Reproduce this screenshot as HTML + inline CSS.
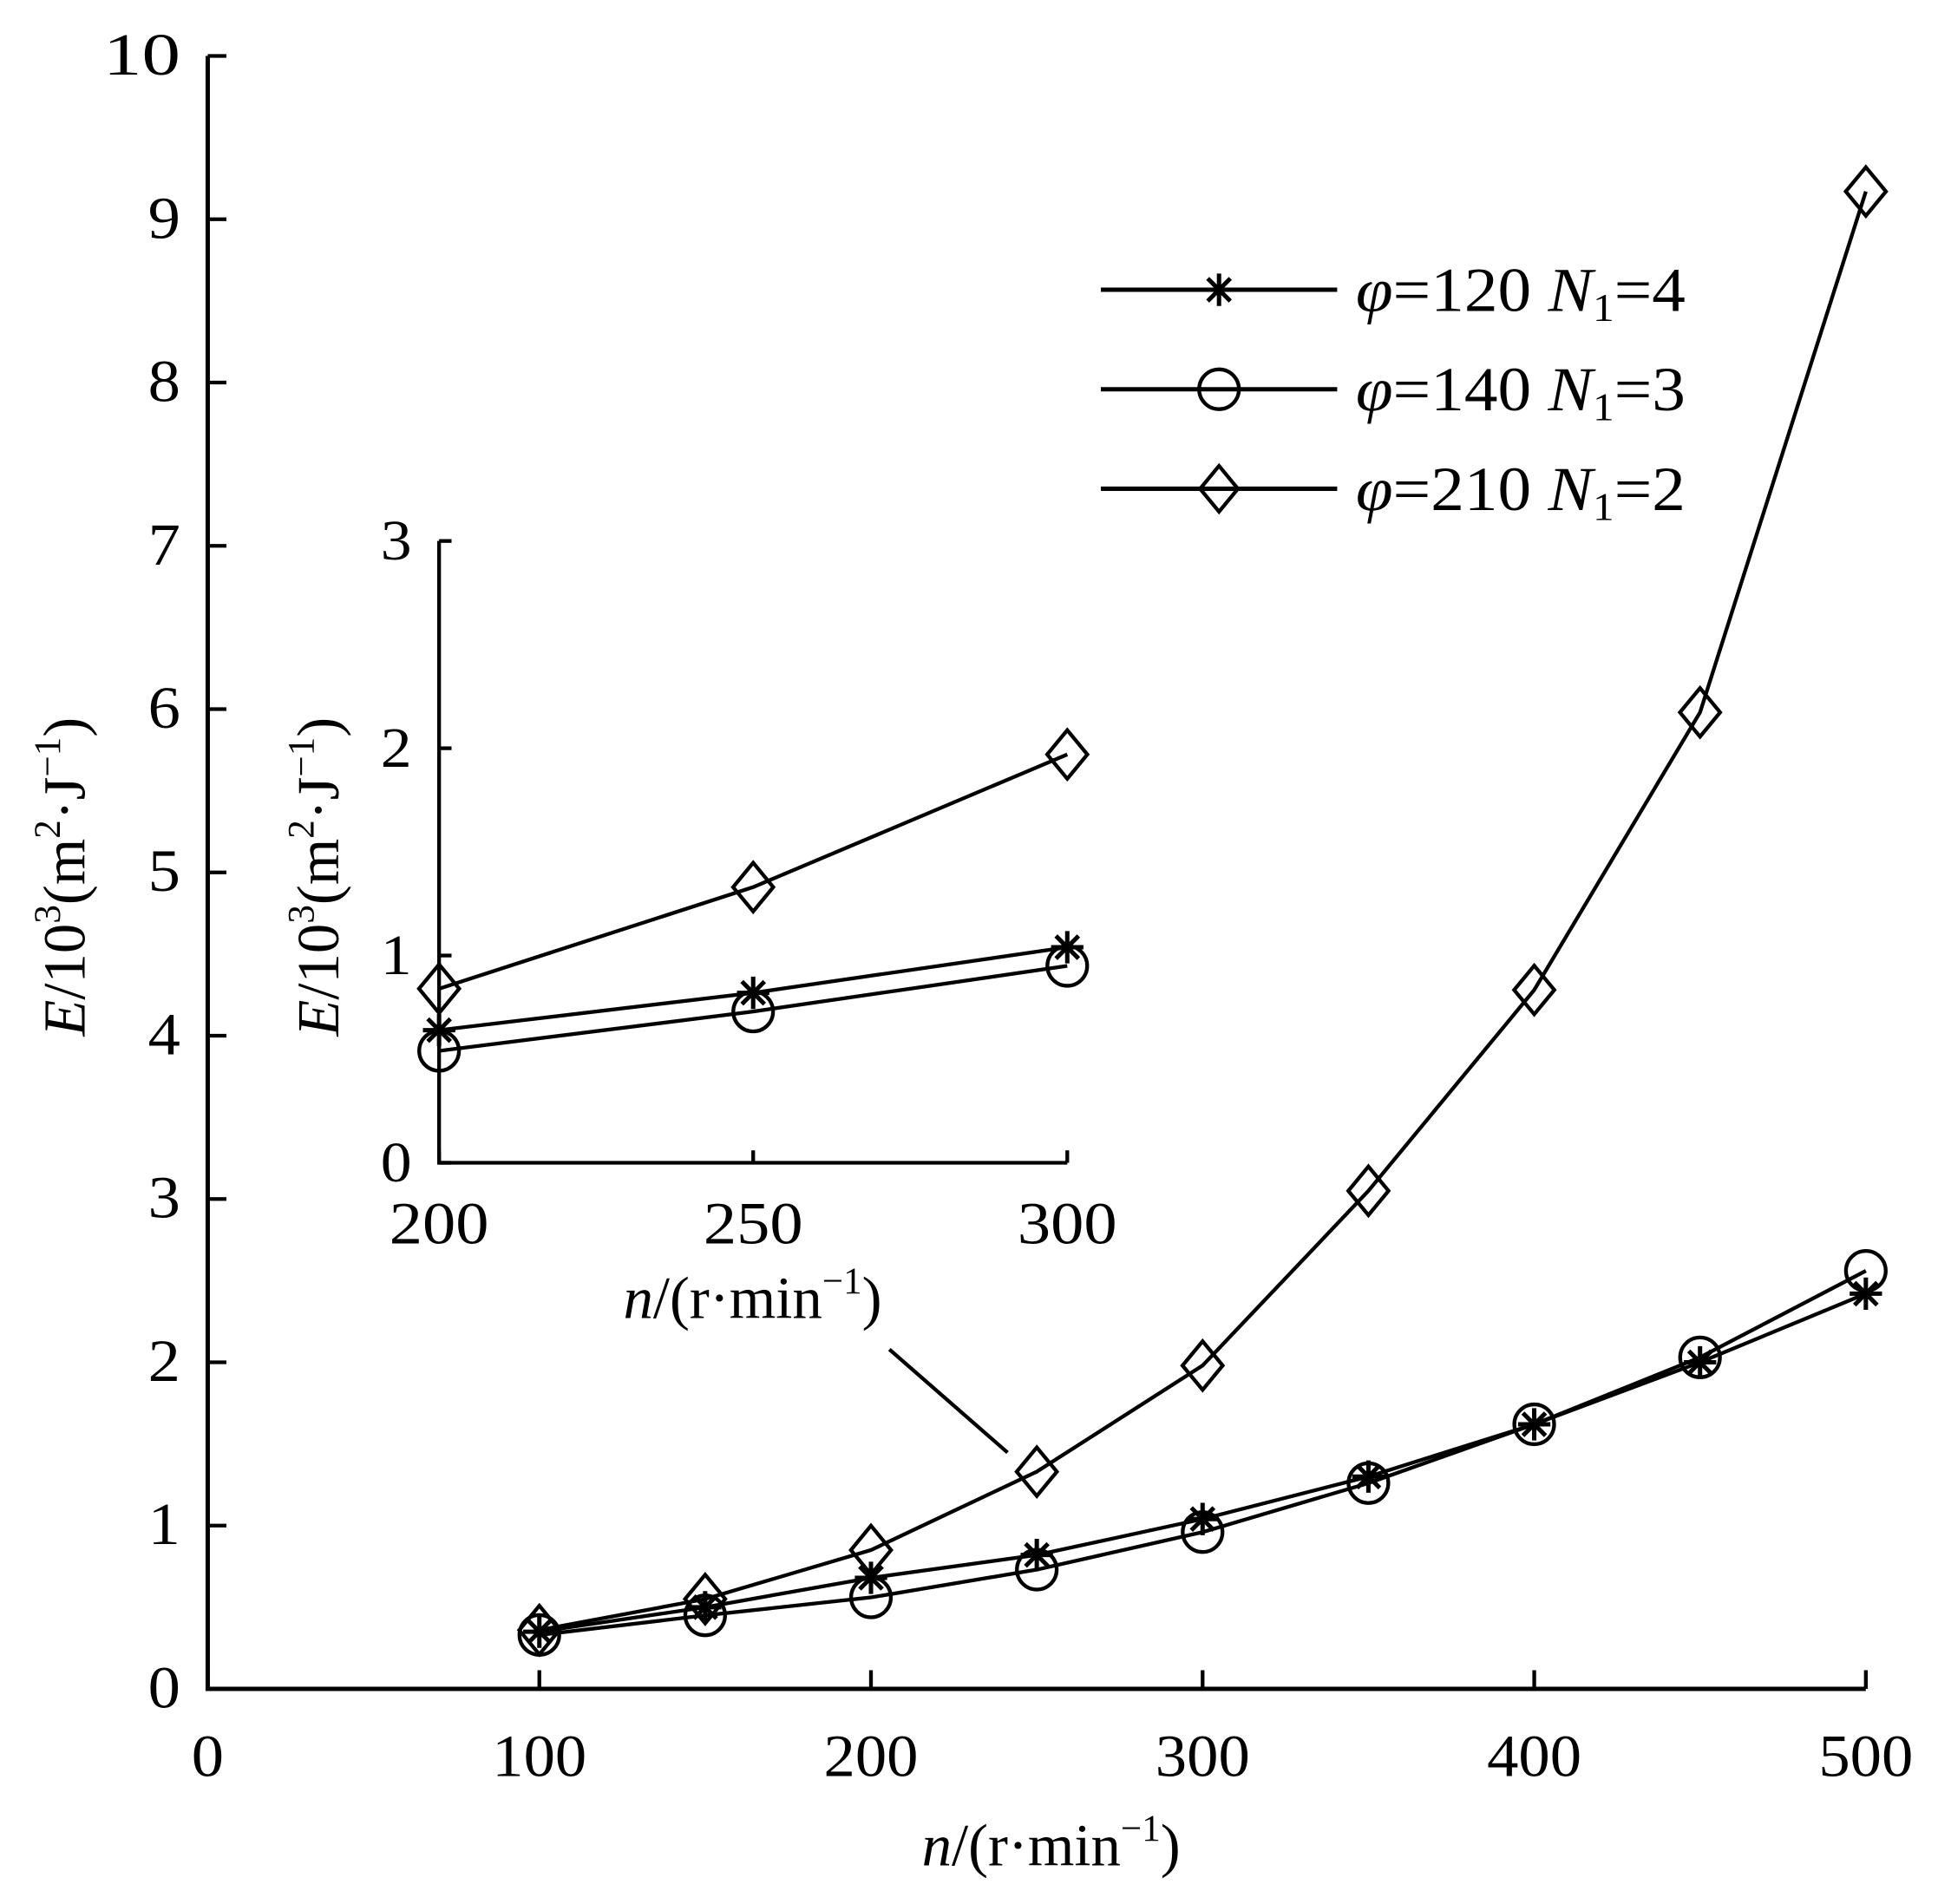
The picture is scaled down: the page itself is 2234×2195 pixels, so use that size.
<!DOCTYPE html>
<html><head><meta charset="utf-8"><style>html,body{margin:0;padding:0;background:#fff}svg{display:block}text{font-family:"Liberation Serif","Times New Roman",serif;fill:#000}</style></head>
<body>
<svg id="chart" width="2234" height="2195" viewBox="0 0 1558 1531" preserveAspectRatio="none" xmlns="http://www.w3.org/2000/svg" font-family="Liberation Serif, serif">
<g id="main"></g>
<g id="inset"></g>
<g id="legend"></g>
</svg>
<script>
const xCats = [100,150,200,250,300,350,400,450,500];
const s120 = [0.35,0.50,0.68,0.82,1.04,1.30,1.62,2.00,2.42];
const s140 = [0.33,0.45,0.56,0.73,0.96,1.26,1.62,2.03,2.56];
const s210 = [0.36,0.55,0.85,1.33,1.98,3.05,4.28,5.98,9.17];
const xTicks = [0,100,200,300,400,500];
const yTicks = [0,1,2,3,4,5,6,7,8,9,10];
const insetCats = [200,250,300];
const in120 = [0.64,0.82,1.04];
const in140 = [0.54,0.73,0.95];
const in210 = [0.84,1.33,1.97];
const insetXTicks = [200,250,300];
const insetYTicks = [0,1,2,3];

const NS='http://www.w3.org/2000/svg';
function mk(parent,tag,attrs,text){const e=document.createElementNS(NS,tag);for(const k in attrs)e.setAttribute(k,attrs[k]);if(text!==undefined)e.textContent=text;parent.appendChild(e);return e;}
const mx=v=>167+(v-0)*(1500-167)/500;
const my=v=>1358-v*(1358-45)/10;
const ix=v=>353+(v-200)*(858-353)/100;
const iy=v=>935-v*(935-435)/3;

function marker(g,type,x,y,s){
  let e;
  if(type==='star'){
    e=mk(g,'path',{d:`M${x-s} ${y}L${x+s} ${y}M${x} ${y-s}L${x} ${y+s}M${x-s*0.7} ${y-s*0.7}L${x+s*0.7} ${y+s*0.7}M${x-s*0.7} ${y+s*0.7}L${x+s*0.7} ${y-s*0.7}`,stroke:'#000','stroke-width':3.5,fill:'none'});
  } else if(type==='circle'){
    e=mk(g,'circle',{cx:x,cy:y,r:s,stroke:'#000','stroke-width':3,fill:'none'});
  } else {
    e=mk(g,'path',{d:`M${x} ${y-s*1.15}L${x+s*0.95} ${y}L${x} ${y+s*1.15}L${x-s*0.95} ${y}Z`,stroke:'#000','stroke-width':3,fill:'none'});
  }
  return e;
}
function series(g,name,cats,vals,fx,fy,type,s){
  const pts=cats.map((c,i)=>fx(c)+','+fy(vals[i])).join(' ');
  const l=mk(g,'polyline',{points:pts,fill:'none',stroke:'#000','stroke-width':3});
  
  
  cats.forEach((c,i)=>{const m=marker(g,type,fx(c),fy(vals[i]),s);
    
    });
}
function txt(g,x,y,str,size,anchor,w,name){
  const t=mk(g,'text',{x:x,y:y,'font-size':size,'text-anchor':anchor||'middle','font-family':'Liberation Serif, serif'},str);
  if(w){t.setAttribute('textLength',w);t.setAttribute('lengthAdjust','spacingAndGlyphs');}
  
  
  return t;
}
const M=document.getElementById('main');
const ax=mk(M,'path',{d:`M${mx(0)} ${my(10)}L${mx(0)} ${my(0)}L${mx(500)} ${my(0)}`,stroke:'#000','stroke-width':3.5,fill:'none'});


yTicks.forEach(v=>{mk(M,'line',{x1:mx(0),x2:mx(0)+15,y1:my(v),y2:my(v),stroke:'#000','stroke-width':3});
  txt(M,mx(0)-22,my(v)+15,String(v),48,'end',v===10?62:26,'y-tick-label');});
xTicks.forEach(v=>{mk(M,'line',{x1:mx(v),x2:mx(v),y1:my(0),y2:my(0)-15,stroke:'#000','stroke-width':3});
  txt(M,mx(v),my(0)+70,String(v),48,'middle',v===0?26:76,'x-tick-label');});
const xl=txt(M,845,1500,'',48,'middle',null,'x-axis-title');
xl.innerHTML='<tspan font-style="italic">n</tspan>/(r·min<tspan dy="-20" font-size="30">−1</tspan><tspan dy="20">)</tspan>';
const yl=txt(M,0,0,'',48,'middle',null,'y-axis-title');
yl.setAttribute('transform','translate(68,705) rotate(-90)');
yl.innerHTML='<tspan font-style="italic">E</tspan>/10<tspan dy="-20" font-size="30">3</tspan><tspan dy="20">(m</tspan><tspan dy="-20" font-size="30">2</tspan><tspan dy="20">·J</tspan><tspan dy="-20" font-size="30">−1</tspan><tspan dy="20">)</tspan>';
series(M,'phi120',xCats,s120,mx,my,'star',13);
series(M,'phi140',xCats,s140,mx,my,'circle',16);
series(M,'phi210',xCats,s210,mx,my,'diamond',17);
const ptr=mk(M,'line',{x1:715,y1:1085,x2:810,y2:1168,stroke:'#000','stroke-width':3});


const I=document.getElementById('inset');
const iax=mk(I,'path',{d:`M${ix(200)} ${iy(3)}L${ix(200)} ${iy(0)}L${ix(300)} ${iy(0)}`,stroke:'#000','stroke-width':3,fill:'none'});


insetYTicks.forEach(v=>{mk(I,'line',{x1:ix(200),x2:ix(200)+10,y1:iy(v),y2:iy(v),stroke:'#000','stroke-width':3});
  txt(I,ix(200)-22,iy(v)+15,String(v),46,'end',25,'inset-y-tick-label');});
insetXTicks.forEach(v=>{mk(I,'line',{x1:ix(v),x2:ix(v),y1:iy(0),y2:iy(0)-10,stroke:'#000','stroke-width':3});
  txt(I,ix(v),iy(0)+65,String(v),48,'middle',80,'inset-x-tick-label');});
const ixl=txt(I,605,1060,'',48,'middle',null,'inset-x-axis-title');
ixl.innerHTML='<tspan font-style="italic">n</tspan>/(r·min<tspan dy="-20" font-size="30">−1</tspan><tspan dy="20">)</tspan>';
const iyl=txt(I,0,0,'',48,'middle',null,'inset-y-axis-title');
iyl.setAttribute('transform','translate(272,705) rotate(-90)');
iyl.innerHTML='<tspan font-style="italic">E</tspan>/10<tspan dy="-20" font-size="30">3</tspan><tspan dy="20">(m</tspan><tspan dy="-20" font-size="30">2</tspan><tspan dy="20">·J</tspan><tspan dy="-20" font-size="30">−1</tspan><tspan dy="20">)</tspan>';
series(I,'inset-phi120',insetCats,in120,ix,iy,'star',13);
series(I,'inset-phi140',insetCats,in140,ix,iy,'circle',16);
series(I,'inset-phi210',insetCats,in210,ix,iy,'diamond',17);
const L=document.getElementById('legend');
const leg=[['star','120','4'],['circle','140','3'],['diamond','210','2']];
leg.forEach((d,i)=>{const y=233+i*80;
  const g=mk(L,'g',{});
  
  
  mk(g,'line',{x1:885,x2:1075,y1:y,y2:y,stroke:'#000','stroke-width':3.5});
  marker(g,d[0],980,y,d[0]==='star'?13:16);
  const t=mk(g,'text',{x:1090,y:y+17,'font-size':50,'font-family':'Liberation Serif, serif',textLength:265,lengthAdjust:'spacingAndGlyphs'});
  t.innerHTML=`<tspan font-style="italic">φ</tspan>=${d[1]} <tspan font-style="italic">N</tspan><tspan font-size="32" dy="8">1</tspan><tspan dy="-8">=${d[2]}</tspan>`;
});
</script>
</body></html>
